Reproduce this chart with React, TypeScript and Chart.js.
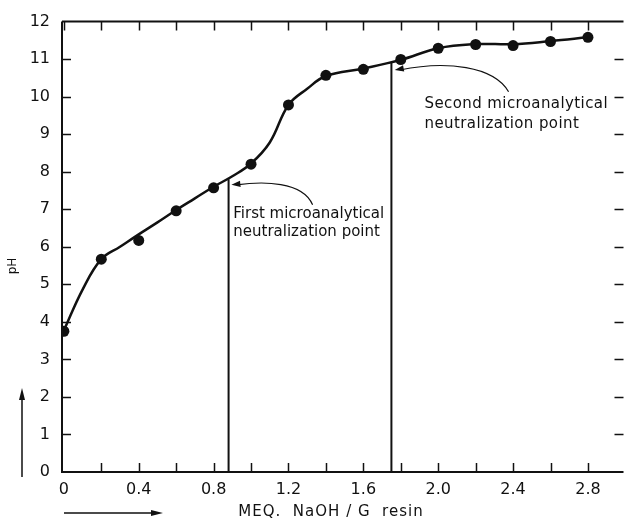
import { useEffect, useRef } from "react";
import { Chart, registerables } from "chart.js";

Chart.register(...registerables);

// ---- data: measured points ----
const meq = [0, 0.2, 0.4, 0.6, 0.8, 1.0, 1.2, 1.4, 1.6, 1.8, 2.0, 2.2, 2.4, 2.6, 2.8];
const pH = [3.75, 5.67, 6.17, 6.96, 7.57, 8.2, 9.78, 10.57, 10.73, 10.99, 11.29, 11.39, 11.36, 11.47, 11.58];

// ---- data: drawn smooth titration curve ----
const curveX = [0, 0.1, 0.2, 0.3, 0.4, 0.5, 0.6, 0.7, 0.8, 0.9, 1.0, 1.1, 1.2, 1.3, 1.4, 1.6, 1.8, 2.0, 2.2, 2.4, 2.6, 2.8];
const curveY = [3.77, 4.86, 5.67, 6.0, 6.33, 6.65, 6.98, 7.29, 7.6, 7.88, 8.22, 8.78, 9.78, 10.21, 10.55, 10.75, 10.98, 11.29, 11.4, 11.4, 11.48, 11.58];

const firstPointX = [0.88, 0.88];
const firstPointY = [0, 7.8];
const secondPointX = [1.75, 1.75];
const secondPointY = [0, 10.92];

const xTicks = [0, 0.2, 0.4, 0.6, 0.8, 1.0, 1.2, 1.4, 1.6, 1.8, 2.0, 2.2, 2.4, 2.6, 2.8];
const xTickLabels = ["0", "", "0.4", "", "0.8", "", "1.2", "", "1.6", "", "2.0", "", "2.4", "", "2.8"];
const yTicks = [0, 1, 2, 3, 4, 5, 6, 7, 8, 9, 10, 11, 12];
const yTickLabels = ["0", "1", "2", "3", "4", "5", "6", "7", "8", "9", "10", "11", "12"];

// annotation anchors in data units: tail, control1, control2, head
const arrow1X = [1.329, 1.276, 1.064, 0.895];
const arrow1Y = [7.12, 7.75, 7.75, 7.65];
const arrow2X = [2.376, 2.297, 2.043, 1.768];
const arrow2Y = [10.13, 10.81, 10.97, 10.71];

const note1Lines = ["First microanalytical", "neutralization point"];
const note1X = 0.905;
const note1Y = [6.86, 6.38];
const note2Lines = ["Second microanalytical", "neutralization point"];
const note2X = 1.927;
const note2Y = [9.8, 9.27];

const xTitle = "MEQ.  NaOH / G  resin";
const yTitle = "pH";

const FONT = "'DejaVu Sans', sans-serif";

function arrowHead(ctx: CanvasRenderingContext2D, x: number, y: number, ang: number, len: number, half: number) {
  ctx.beginPath();
  ctx.moveTo(x, y);
  ctx.lineTo(x - len * Math.cos(ang) + half * Math.sin(ang), y - len * Math.sin(ang) - half * Math.cos(ang));
  ctx.lineTo(x - len * Math.cos(ang) - half * Math.sin(ang), y - len * Math.sin(ang) + half * Math.cos(ang));
  ctx.closePath();
  ctx.fill();
}

const decorPlugin = {
  id: "decor",
  beforeDatasetsDraw(chart: any) {
    const ctx: CanvasRenderingContext2D = chart.ctx;
    const { left, right, top, bottom } = chart.chartArea;
    const xs = chart.scales.x;
    const ys = chart.scales.y;
    ctx.save();
    ctx.strokeStyle = "#111";
    ctx.lineWidth = 2;
    ctx.beginPath();
    ctx.moveTo(left, top);
    ctx.lineTo(right, top);
    ctx.moveTo(left, top);
    ctx.lineTo(left, bottom);
    ctx.lineTo(right, bottom);
    ctx.stroke();
    ctx.lineWidth = 1.5;
    const tl = 9;
    ctx.beginPath();
    for (const v of xTicks) {
      const px = Math.round(xs.getPixelForValue(v)) + 0.5;
      if (v !== 0) {
        ctx.moveTo(px, bottom);
        ctx.lineTo(px, bottom - tl);
      }
      ctx.moveTo(px, top);
      ctx.lineTo(px, top + tl);
    }
    for (const v of yTicks) {
      const py = Math.round(ys.getPixelForValue(v)) + 0.5;
      if (v !== 0 && v !== 12) {
        ctx.moveTo(left, py);
        ctx.lineTo(left + tl, py);
        ctx.moveTo(right, py);
        ctx.lineTo(right - tl, py);
      }
    }
    ctx.stroke();
    ctx.restore();
  },
  afterDatasetsDraw(chart: any) {
    const ctx: CanvasRenderingContext2D = chart.ctx;
    const xs = chart.scales.x;
    const ys = chart.scales.y;
    const { bottom } = chart.chartArea;
    ctx.save();
    ctx.strokeStyle = "#111";
    ctx.fillStyle = "#111";

    const drawCurveArrow = (ax: number[], ay: number[]) => {
      const p = ax.map((v, i) => [xs.getPixelForValue(v), ys.getPixelForValue(ay[i])]);
      ctx.lineWidth = 1.2;
      ctx.beginPath();
      ctx.moveTo(p[0][0], p[0][1]);
      ctx.bezierCurveTo(p[1][0], p[1][1], p[2][0], p[2][1], p[3][0] + 5, p[3][1]);
      ctx.stroke();
      const ang = Math.atan2(p[3][1] - p[2][1], p[3][0] - p[2][0]);
      arrowHead(ctx, p[3][0], p[3][1], ang, 9, 3.2);
    };
    drawCurveArrow(arrow1X, arrow1Y);
    drawCurveArrow(arrow2X, arrow2Y);

    ctx.font = `15px ${FONT}`;
    ctx.textAlign = "left";
    ctx.textBaseline = "middle";
    note1Lines.forEach((t, i) => ctx.fillText(t, xs.getPixelForValue(note1X), ys.getPixelForValue(note1Y[i])));
    (ctx as any).letterSpacing = "0.4px";
    note2Lines.forEach((t, i) => ctx.fillText(t, xs.getPixelForValue(note2X), ys.getPixelForValue(note2Y[i])));

    // axis titles
    ctx.font = `15px ${FONT}`;
    ctx.textAlign = "center";
    (ctx as any).letterSpacing = "1px";
    ctx.fillText(xTitle, 331, bottom + 40);
    (ctx as any).letterSpacing = "0px";

    ctx.save();
    ctx.translate(13, 266);
    ctx.rotate(-Math.PI / 2);
    ctx.font = `12px ${FONT}`;
    ctx.fillText(yTitle, 0, 0);
    ctx.restore();

    // direction arrows
    ctx.lineWidth = 1.5;
    ctx.beginPath();
    ctx.moveTo(22, 477);
    ctx.lineTo(22, 396);
    ctx.moveTo(64, 513);
    ctx.lineTo(154, 513);
    ctx.stroke();
    arrowHead(ctx, 22, 388, -Math.PI / 2, 12, 3);
    arrowHead(ctx, 163, 513, 0, 12, 3);
    ctx.restore();
  },
};

export default function App() {
  const ref = useRef<HTMLCanvasElement | null>(null);
  useEffect(() => {
    if (!ref.current) return;
    const chart = new Chart(ref.current, {
      type: "scatter",
      data: {
        datasets: [
          {
            data: curveX.map((x, i) => ({ x, y: curveY[i] })),
            showLine: true,
            borderColor: "#111",
            borderWidth: 2.5,
            pointRadius: 0,
            tension: 0.4,
          },
          {
            data: meq.map((x, i) => ({ x, y: pH[i] })),
            showLine: false,
            backgroundColor: "#111",
            pointRadius: 5.5,
            pointBackgroundColor: "#111",
            pointBorderWidth: 0,
          },
          {
            data: firstPointX.map((x, i) => ({ x, y: firstPointY[i] })),
            showLine: true,
            borderColor: "#111",
            borderWidth: 2,
            pointRadius: 0,
          },
          {
            data: secondPointX.map((x, i) => ({ x, y: secondPointY[i] })),
            showLine: true,
            borderColor: "#111",
            borderWidth: 2,
            pointRadius: 0,
          },
        ],
      },
      options: {
        animation: false,
        responsive: false,
        layout: { padding: { top: 17, right: 0, left: 0, bottom: 0 } },
        plugins: { legend: { display: false }, tooltip: { enabled: false } },
        scales: {
          x: {
            type: "linear",
            min: -0.01,
            max: 2.99,
            grid: { display: false, drawTicks: false },
            border: { display: false },
            afterBuildTicks: (s: any) => {
              s.ticks = xTicks.map((v) => ({ value: v }));
            },
            afterFit: (s: any) => {
              s.height = 50;
            },
            ticks: {
              autoSkip: false,
              maxRotation: 0,
              padding: 8,
              color: "#111",
              font: { family: FONT, size: 16 },
              callback: (_v: any, i: number) => xTickLabels[i],
            },
          },
          y: {
            type: "linear",
            min: 0,
            max: 12,
            grid: { display: false, drawTicks: false },
            border: { display: false },
            afterBuildTicks: (s: any) => {
              s.ticks = yTicks.map((v) => ({ value: v }));
            },
            afterFit: (s: any) => {
              s.width = 62;
            },
            ticks: {
              autoSkip: false,
              padding: 12,
              color: "#111",
              font: { family: FONT, size: 16 },
              callback: (_v: any, i: number) => yTickLabels[i],
            },
          },
        },
      },
      plugins: [decorPlugin],
    } as any);
    return () => chart.destroy();
  }, []);
  return (
    <div style={{ position: "absolute", left: 0, top: 0, width: 629, height: 522, background: "#fff" }}>
      <canvas ref={ref} width={629} height={522} />
    </div>
  );
}
